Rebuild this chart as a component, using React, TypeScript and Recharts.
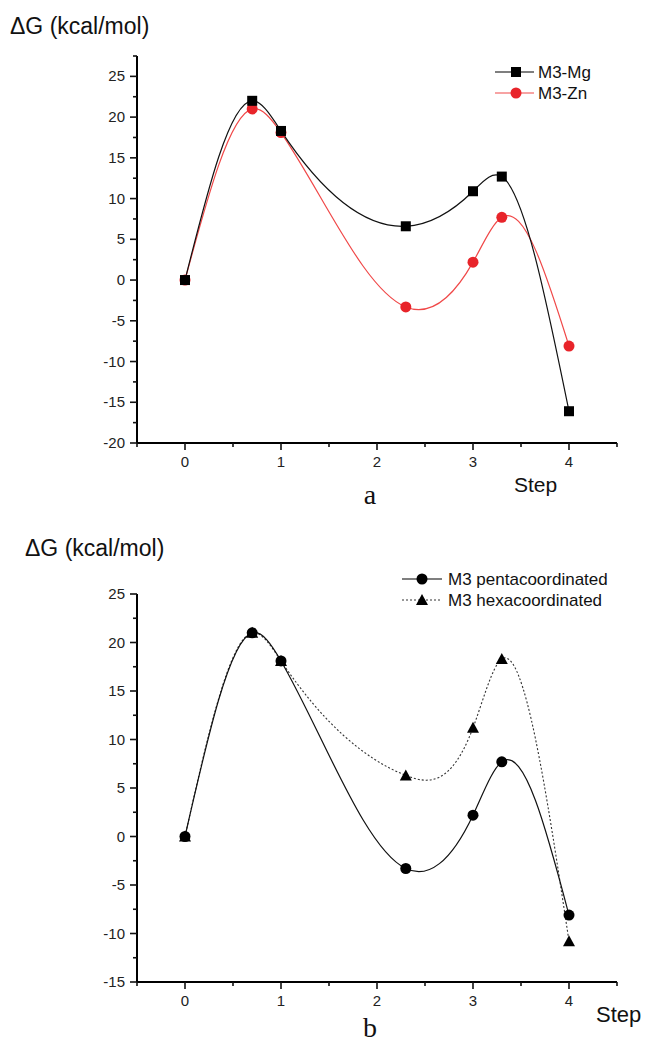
import React from 'react';
import { LineChart, Line, XAxis, YAxis } from 'recharts';

// step positions and energies (kcal/mol)
const steps = [0, 0.7, 1, 2.3, 3, 3.3, 4];
const mgValues = [0, 22, 18.3, 6.6, 10.9, 12.7, -16.1];
const znValues = [0, 21, 18.1, -3.3, 2.2, 7.7, -8.1];
const pentaValues = [0, 21, 18.1, -3.3, 2.2, 7.7, -8.1];
const hexaValues = [0, 21, 18.1, 6.3, 11.2, 18.3, -10.8];

const xTicks = [-0.5, 0, 0.5, 1, 1.5, 2, 2.5, 3, 3.5, 4, 4.5];
const yTicksA = [-20, -17.5, -15, -12.5, -10, -7.5, -5, -2.5, 0, 2.5, 5, 7.5, 10, 12.5, 15, 17.5, 20, 22.5, 25, 27.5];
const yTicksB = [-15, -12.5, -10, -7.5, -5, -2.5, 0, 2.5, 5, 7.5, 10, 12.5, 15, 17.5, 20, 22.5, 25];

const dataA = steps.map((x, i) => ({ x, mg: mgValues[i], zn: znValues[i] }));
const dataB = steps.map((x, i) => ({ x, penta: pentaValues[i], hexa: hexaValues[i] }));

const FONT = '"Liberation Sans", Arial, sans-serif';
const RED = '#e8242a';

// natural cubic spline, y as a function of x (like Origin's spline connector)
const splineCurve = (context: any) => {
  let xs: number[] = [];
  let ys: number[] = [];
  return {
    areaStart() {},
    areaEnd() {},
    lineStart() {
      xs = [];
      ys = [];
    },
    point(x: number, y: number) {
      xs.push(+x);
      ys.push(+y);
    },
    lineEnd() {
      const n = xs.length;
      if (!n) return;
      context.moveTo(xs[0], ys[0]);
      if (n === 1) return;
      if (n === 2) {
        context.lineTo(xs[1], ys[1]);
        return;
      }
      const h: number[] = [];
      for (let i = 0; i < n - 1; i++) h.push(xs[i + 1] - xs[i]);
      const M = new Array(n).fill(0);
      const m = n - 2;
      const a: number[] = [], b: number[] = [], c: number[] = [], d: number[] = [];
      for (let i = 1; i <= m; i++) {
        a.push(h[i - 1]);
        b.push(2 * (h[i - 1] + h[i]));
        c.push(h[i]);
        d.push(6 * ((ys[i + 1] - ys[i]) / h[i] - (ys[i] - ys[i - 1]) / h[i - 1]));
      }
      for (let i = 1; i < m; i++) {
        const w = a[i] / b[i - 1];
        b[i] -= w * c[i - 1];
        d[i] -= w * d[i - 1];
      }
      const sol = new Array(m).fill(0);
      sol[m - 1] = d[m - 1] / b[m - 1];
      for (let i = m - 2; i >= 0; i--) sol[i] = (d[i] - c[i] * sol[i + 1]) / b[i];
      for (let i = 0; i < m; i++) M[i + 1] = sol[i];
      for (let i = 0; i < n - 1; i++) {
        const hi = h[i];
        const slope = (ys[i + 1] - ys[i]) / hi;
        const s0 = slope - (hi * (2 * M[i] + M[i + 1])) / 6;
        const s1 = slope + (hi * (M[i] + 2 * M[i + 1])) / 6;
        context.bezierCurveTo(
          xs[i] + hi / 3, ys[i] + (s0 * hi) / 3,
          xs[i + 1] - hi / 3, ys[i + 1] - (s1 * hi) / 3,
          xs[i + 1], ys[i + 1]
        );
      }
    },
  };
};

const XTick = ({ x, y, payload }: any) => {
  const v = payload.value;
  const major = Number.isInteger(v);
  return (
    <g>
      <line x1={x} x2={x} y1={y} y2={y + (major ? 7 : 4)} stroke='#111' strokeWidth={1.6} />
      {major && (
        <text x={x} y={y + 24} textAnchor='middle' fontSize={15} fontFamily={FONT} fill='#222'>
          {v}
        </text>
      )}
    </g>
  );
};

const YTick = ({ x, y, payload }: any) => {
  const v = payload.value;
  const major = v % 5 === 0;
  return (
    <g>
      <line x1={x - (major ? 7 : 4)} x2={x} y1={y} y2={y} stroke='#111' strokeWidth={1.6} />
      {major && (
        <text x={x - 12} y={y + 5} textAnchor='end' fontSize={15} fontFamily={FONT} fill='#222'>
          {v}
        </text>
      )}
    </g>
  );
};

const square = (color: string) => (p: any) => (
  <rect key={`s${p.index}`} x={p.cx - 5} y={p.cy - 5} width={10} height={10} fill={color} />
);
const circle = (color: string, r: number) => (p: any) => (
  <circle key={`c${p.index}`} cx={p.cx} cy={p.cy} r={r} fill={color} />
);
const triangle = (color: string) => (p: any) => (
  <polygon
    key={`t${p.index}`}
    points={`${p.cx},${p.cy - 6} ${p.cx - 6},${p.cy + 5} ${p.cx + 6},${p.cy + 5}`}
    fill={color}
  />
);

const axisLine = { stroke: '#000', strokeWidth: 2 };

export default function App() {
  return (
    <div style={{ position: 'absolute', left: 0, top: 0, width: 646, height: 1044, background: '#fff', overflow: 'hidden' }}>
      {/* panel a */}
      <div style={{ position: 'absolute', left: 0, top: 0 }}>
        <LineChart width={646} height={520} data={dataA} margin={{ top: 56, right: 29, left: 77, bottom: 47 }}>
          <XAxis
            type='number'
            dataKey='x'
            domain={[-0.5, 4.5]}
            ticks={xTicks}
            interval={0}
            height={30}
            tickSize={0}
            tickMargin={0}
            axisLine={axisLine}
            tick={<XTick />}
          />
          <YAxis
            type='number'
            domain={[-20, 27.5]}
            ticks={yTicksA}
            interval={0}
            width={60}
            tickSize={0}
            tickMargin={0}
            axisLine={axisLine}
            tick={<YTick />}
          />
          <Line dataKey='zn' type={splineCurve as any} stroke='#f04848' strokeWidth={1.2} dot={circle(RED, 5.5)} isAnimationActive={false} />
          <Line dataKey='mg' type={splineCurve as any} stroke='#111' strokeWidth={1.2} dot={square('#000')} isAnimationActive={false} />
        </LineChart>
      </div>

      {/* panel b */}
      <div style={{ position: 'absolute', left: 0, top: 520 }}>
        <LineChart width={646} height={524} data={dataB} margin={{ top: 74, right: 29, left: 77, bottom: 32 }}>
          <XAxis
            type='number'
            dataKey='x'
            domain={[-0.5, 4.5]}
            ticks={xTicks}
            interval={0}
            height={30}
            tickSize={0}
            tickMargin={0}
            axisLine={axisLine}
            tick={<XTick />}
          />
          <YAxis
            type='number'
            domain={[-15, 25]}
            ticks={yTicksB}
            interval={0}
            width={60}
            tickSize={0}
            tickMargin={0}
            axisLine={axisLine}
            tick={<YTick />}
          />
          <Line dataKey='hexa' type={splineCurve as any} stroke='#333' strokeWidth={1.1} strokeDasharray='2 2' dot={triangle('#000')} isAnimationActive={false} />
          <Line dataKey='penta' type={splineCurve as any} stroke='#111' strokeWidth={1.2} dot={circle('#000', 5.5)} isAnimationActive={false} />
        </LineChart>
      </div>

      {/* titles, axis names and legends */}
      <svg width={646} height={1044} style={{ position: 'absolute', left: 0, top: 0, pointerEvents: 'none' }}>
        <g fontFamily={FONT} fill='#111'>
          <text x={10} y={34} fontSize={23}>ΔG (kcal/mol)</text>
          <text x={25} y={556} fontSize={23}>ΔG (kcal/mol)</text>
          <text x={514} y={492} fontSize={21}>Step</text>
          <text x={596} y={1022} fontSize={22}>Step</text>

          <line x1={495} x2={534} y1={72} y2={72} stroke='#000' strokeWidth={1.2} />
          <rect x={511} y={67} width={10} height={10} fill='#000' />
          <text x={538} y={78} fontSize={17}>M3-Mg</text>
          <line x1={495} x2={534} y1={93} y2={93} stroke='#f04848' strokeWidth={1.2} />
          <circle cx={516} cy={93} r={5.5} fill={RED} />
          <text x={538} y={99} fontSize={17}>M3-Zn</text>

          <line x1={402} x2={442} y1={579} y2={579} stroke='#000' strokeWidth={1.2} />
          <circle cx={422} cy={579} r={5.5} fill='#000' />
          <text x={448} y={585} fontSize={17}>M3 pentacoordinated</text>
          <line x1={402} x2={442} y1={600} y2={600} stroke='#333' strokeWidth={1.1} strokeDasharray='2 2' />
          <polygon points='422,594 416,605 428,605' fill='#000' />
          <text x={448} y={606} fontSize={17}>M3 hexacoordinated</text>
        </g>
        <g fontFamily='"Liberation Serif", "Times New Roman", serif' fill='#111'>
          <text x={370} y={504} fontSize={28} textAnchor='middle'>a</text>
          <text x={370} y={1037} fontSize={28} textAnchor='middle'>b</text>
        </g>
      </svg>
    </div>
  );
}
